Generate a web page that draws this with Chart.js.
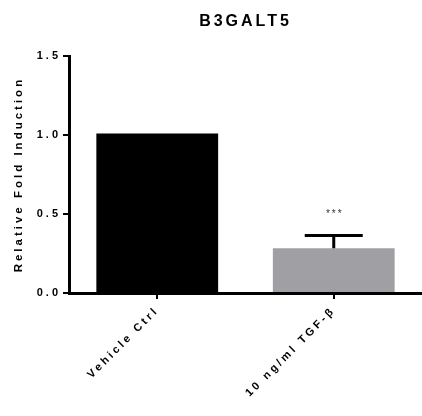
<!DOCTYPE html>
<html>
<head>
<meta charset="utf-8">
<script src="https://cdn.jsdelivr.net/npm/chart.js@4/dist/chart.umd.min.js"></script>
<style>
  html, body { margin: 0; padding: 0; background: #fff; }
  canvas { display: block; }
</style>
</head>
<body>
<canvas id="foldChart" width="422" height="416"></canvas>
<script>
const chartTitle = "B3GALT5";
const yAxisTitle = "Relative Fold Induction";
const categories = ["Vehicle Ctrl", "10 ng/ml TGF-\u03B2"];
const meanValues = [1.01, 0.284];
const upperErrors = [0, 0.08];
const significance = ["", "***"];
const barColors = ["#000000", "#a09fa4"];
const yTicks = [0, 0.5, 1.0, 1.5];

const FONT = "'Liberation Sans', Arial, sans-serif";

// spaced-out lettering like the GraphPad export
const spacingPlugin = {
  id: "spacing",
  beforeUpdate(chart) {
    chart.ctx.letterSpacing = "3px";
  },
  beforeDraw(chart) {
    chart.ctx.letterSpacing = "3px";
  },
  afterDatasetsDraw(chart) {
    const ctx = chart.ctx;
    const y = chart.scales.y;
    const meta = chart.getDatasetMeta(0);

    meta.data.forEach((bar, i) => {
      const err = upperErrors[i];
      const top = y.getPixelForValue(meanValues[i] + err);
      if (err > 0) {
        ctx.save();
        ctx.strokeStyle = "#000";
        ctx.lineWidth = 3;
        ctx.beginPath();
        ctx.moveTo(bar.x, bar.y);
        ctx.lineTo(bar.x, top);
        ctx.moveTo(bar.x - 29, top);
        ctx.lineTo(bar.x + 29, top);
        ctx.stroke();
        ctx.restore();
      }
      if (significance[i]) {
        ctx.save();
        ctx.letterSpacing = "2px";
        ctx.fillStyle = "#333";
        ctx.font = "10px " + FONT;
        ctx.textAlign = "center";
        ctx.textBaseline = "middle";
        ctx.fillText(significance[i], bar.x + 1, top - 21);
        ctx.restore();
      }
    });

    // title is drawn after datasets (z: 1) with wider spacing
    ctx.letterSpacing = "5px";
  }
};

new Chart(document.getElementById("foldChart").getContext("2d"), {
  type: "bar",
  data: {
    labels: categories,
    datasets: [{
      data: meanValues,
      backgroundColor: barColors,
      borderWidth: 0,
      barPercentage: 0.69,
      categoryPercentage: 1.0
    }]
  },
  plugins: [spacingPlugin],
  options: {
    responsive: false,
    animation: false,
    layout: { padding: 0 },
    plugins: {
      legend: { display: false },
      tooltip: { enabled: false },
      title: {
        display: true,
        text: chartTitle,
        fullSize: false,
        z: 1,
        color: "#000",
        font: { family: FONT, size: 16, weight: "bold" },
        padding: { top: 12, bottom: 25 }
      }
    },
    scales: {
      x: {
        afterFit(scale) { scale.height = 123; },
        grid: {
          offset: false,
          drawOnChartArea: false,
          drawTicks: true,
          tickLength: 6,
          color: "#000",
          lineWidth: 2
        },
        border: { color: "#000", width: 3 },
        ticks: {
          color: "#000",
          minRotation: 45,
          maxRotation: 45,
          padding: 5,
          font: { family: FONT, size: 11, weight: "bold" }
        }
      },
      y: {
        min: 0,
        max: 1.5,
        afterFit(scale) { scale.width = 69; },
        afterBuildTicks(scale) {
          scale.ticks = yTicks.map(v => ({ value: v }));
        },
        grid: {
          drawOnChartArea: false,
          drawTicks: true,
          tickLength: 6,
          color: "#000",
          lineWidth: 2
        },
        border: { color: "#000", width: 3 },
        ticks: {
          color: "#000",
          padding: 2,
          font: { family: FONT, size: 11, weight: "bold" },
          callback: v => Number(v).toFixed(1)
        },
        title: {
          display: true,
          text: yAxisTitle,
          color: "#000",
          padding: { top: 12, bottom: 0 },
          font: { family: FONT, size: 11.5, weight: "bold" }
        }
      }
    }
  }
});
</script>
</body>
</html>
